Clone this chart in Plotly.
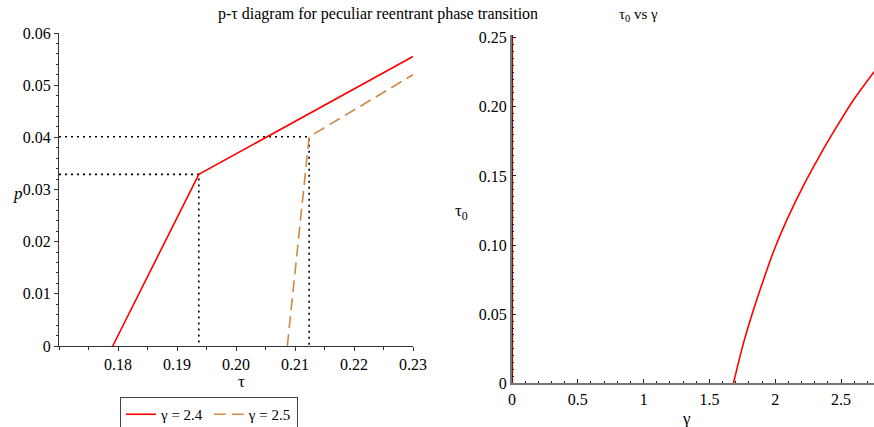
import plotly.graph_objects as go

# ---- data ----
tau_g24 = [0.1791, 0.1937, 0.2300]
p_g24 = [0.0, 0.0329, 0.0555]
tau_g25 = [0.2087, 0.2124, 0.2300]
p_g25 = [0.0, 0.0401, 0.0520]

gamma_vals = [1.682, 1.758, 1.834, 1.910, 1.986, 2.087, 2.214, 2.340, 2.467, 2.594, 2.751]
tau0_vals = [0.0, 0.0289, 0.0530, 0.0747, 0.0952, 0.1180, 0.1430, 0.1651, 0.1856, 0.2049, 0.2254]
gamma_zero_line = [0.0, 0.0]
tau0_zero_line = [0.0, 0.252]

x_ticks_left = [0.18, 0.19, 0.20, 0.21, 0.22, 0.23]
x_ticklabels_left = ["0.18", "0.19", "0.20", "0.21", "0.22", "0.23"]
y_ticks_left = [0, 0.01, 0.02, 0.03, 0.04, 0.05, 0.06]
y_ticklabels_left = ["0", "0.01", "0.02", "0.03", "0.04", "0.05", "0.06"]
x_ticks_right = [0, 0.5, 1, 1.5, 2, 2.5]
x_ticklabels_right = ["0", "0.5", "1", "1.5", "2", "2.5"]
y_ticks_right = [0, 0.05, 0.10, 0.15, 0.20, 0.25]
y_ticklabels_right = ["0", "0.05", "0.10", "0.15", "0.20", "0.25"]

FONT = "Liberation Serif"
RED = "#FF0000"
ORANGE = "#D08A44"

fig = go.Figure()

# dotted guide lines (left)
for t, p in [(tau_g24[1], p_g24[1]), (tau_g25[1], p_g25[1])]:
    fig.add_trace(go.Scatter(x=[0.17, t, t], y=[p, p, 0], mode="lines",
                             line=dict(color="black", width=1.6, dash="2px,4px"),
                             showlegend=False, hoverinfo="skip", xaxis="x", yaxis="y"))

fig.add_trace(go.Scatter(x=tau_g24, y=p_g24, mode="lines", name="γ = 2.4",
                         line=dict(color=RED, width=1.6), xaxis="x", yaxis="y"))
fig.add_trace(go.Scatter(x=tau_g25, y=p_g25, mode="lines", name="γ = 2.5",
                         line=dict(color=ORANGE, width=1.6, dash="12px,6px"), xaxis="x", yaxis="y"))

# right plot
fig.add_trace(go.Scatter(x=gamma_zero_line, y=tau0_zero_line, mode="lines",
                         line=dict(color="#9B0000", width=2.2), showlegend=False,
                         xaxis="x2", yaxis="y2"))
fig.add_trace(go.Scatter(x=gamma_vals, y=tau0_vals, mode="lines",
                         line=dict(color=RED, width=1.6, shape="spline", smoothing=0.8),
                         showlegend=False, xaxis="x2", yaxis="y2"))

W, H = 874, 427
def px(x):
    return x / W
def py(y):
    return 1 - y / H

tickfont = dict(family=FONT, size=16, color="black")

fig.update_layout(
    width=W, height=H,
    margin=dict(l=0, r=0, t=0, b=0, autoexpand=False),
    paper_bgcolor="white", plot_bgcolor="white",
    font=dict(family=FONT, size=16, color="black"),
    xaxis=dict(domain=[px(59), px(413)], range=[0.17, 0.23], anchor="y", automargin=False,
               tickvals=x_ticks_left, ticktext=x_ticklabels_left, tickfont=tickfont,
               showgrid=False, zeroline=False, showline=True, linecolor="#333", linewidth=1.2,
               ticks="outside", ticklen=4, tickcolor="#333",
               minor=dict(ticks="outside", ticklen=3, dtick=0.005, tickcolor="#333")),
    yaxis=dict(domain=[py(346), py(33)], range=[0, 0.06], anchor="x", automargin=False,
               tickvals=y_ticks_left, ticktext=y_ticklabels_left, tickfont=tickfont,
               showgrid=False, zeroline=False, showline=True, linecolor="#333", linewidth=1.2,
               ticks="outside", ticklen=4, tickcolor="#333",
               minor=dict(ticks="outside", ticklen=2, dtick=0.002, tickcolor="#333")),
    xaxis2=dict(domain=[px(512), 1.0], range=[0, 2.75], anchor="y2", automargin=False,
                tickvals=x_ticks_right, ticktext=x_ticklabels_right, tickfont=tickfont,
                showgrid=False, zeroline=False, showline=True, linecolor="#777", linewidth=2,
                ticks="inside", ticklen=4, tickcolor="#222",
                minor=dict(ticks="inside", ticklen=2, dtick=0.1, tickcolor="#222")),
    yaxis2=dict(domain=[py(383.3), py(34.9)], range=[0, 0.252], anchor="x2", automargin=False,
                tickvals=y_ticks_right, ticktext=y_ticklabels_right, tickfont=tickfont,
                showgrid=False, zeroline=False, showline=True, linecolor="#777", linewidth=2,
                ticks="inside", ticklen=4, tickcolor="#222",
                minor=dict(ticks="inside", ticklen=2, dtick=0.005, tickcolor="#222")),
    legend=dict(orientation="h", x=px(120), y=py(397), xanchor="left", yanchor="top",
                bordercolor="#444", borderwidth=1, font=dict(family=FONT, size=15),
                itemwidth=30, tracegroupgap=0),
    annotations=[
        dict(text="p-τ diagram for peculiar reentrant phase transition", x=px(216), y=py(14),
             xref="paper", yref="paper", showarrow=False, yanchor="middle",
             font=dict(family=FONT, size=16)),
        dict(text="τ<sub>0</sub> vs γ", x=px(660), y=py(15), xref="paper", yref="paper",
             showarrow=False, yanchor="middle", font=dict(family=FONT, size=15)),
        dict(text="<i>p</i>", x=px(11), y=py(193), xref="paper", yref="paper",
             showarrow=False, yanchor="middle", font=dict(family=FONT, size=17)),
        dict(text="τ", x=px(236), y=py(381), xref="paper", yref="paper",
             showarrow=False, yanchor="middle", font=dict(family=FONT, size=17)),
        dict(text="τ<sub>0</sub>", x=px(462), y=py(212), xref="paper", yref="paper",
             showarrow=False, yanchor="middle", font=dict(family=FONT, size=17)),
        dict(text="γ", x=px(693), y=py(418), xref="paper", yref="paper",
             showarrow=False, yanchor="middle", font=dict(family=FONT, size=17)),
    ],
)

fig.write_html("out.html")
